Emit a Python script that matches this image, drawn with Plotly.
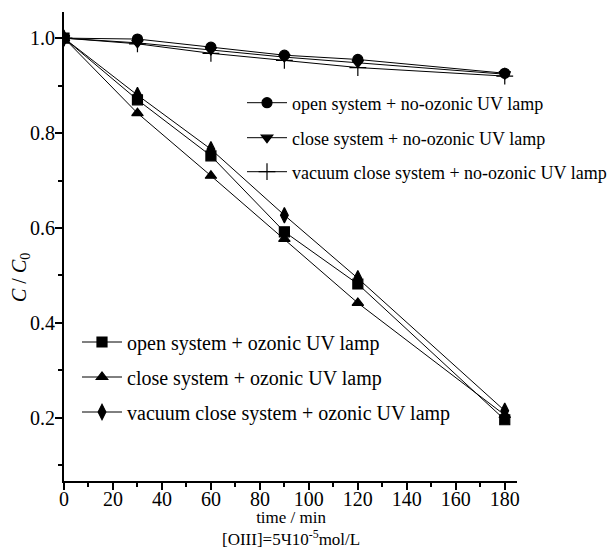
import plotly.graph_objects as go

time_min = [0, 30, 60, 90, 120, 180]

open_no_ozonic = [1.0, 0.998, 0.981, 0.964, 0.955, 0.926]
close_no_ozonic = [1.0, 0.990, 0.975, 0.960, 0.948, 0.924]
vacuum_no_ozonic = [1.0, 0.988, 0.968, 0.953, 0.938, 0.920]

open_ozonic = [1.0, 0.870, 0.752, 0.592, 0.482, 0.196]
close_ozonic = [1.0, 0.842, 0.710, 0.577, 0.442, 0.206]
vacuum_ozonic = [1.0, 0.880, 0.766, 0.627, 0.494, 0.215]

names = [
    "open system + no-ozonic UV lamp",
    "close system + no-ozonic UV lamp",
    "vacuum close system + no-ozonic UV lamp",
    "open system + ozonic UV lamp",
    "close system + ozonic UV lamp",
    "vacuum close system + ozonic UV lamp",
]
series = [open_no_ozonic, close_no_ozonic, vacuum_no_ozonic,
          open_ozonic, close_ozonic, vacuum_ozonic]
symbols = ["circle", "triangle-down", "cross-thin", "square", "triangle-up", "diamond-tall"]
sizes = [10, 10, 12, 10, 10, 11]

FONT = "Liberation Serif, Times New Roman, serif"

# page geometry (the page body has an 8px margin)
OFF = 8
W, H = 616 - OFF, 550 - OFF
PL, PT, PR, PB = 64, 12, 517, 481          # plot area in page pixels
L, T = PL - OFF, PT - OFF
R, B = W - (PR - OFF), H - (PB - OFF)
pw, ph = PR - PL, PB - PT

def px2paper(xp, yp):
    return (xp - PL) / pw, (PB - yp) / ph

fig = go.Figure()
legend_ids = ["legend", "legend2", "legend3", "legend4", "legend5", "legend6"]
for i, (nm, ys) in enumerate(zip(names, series)):
    fig.add_trace(go.Scatter(
        x=time_min, y=ys, name=nm, mode="lines+markers",
        line=dict(color="black", width=1),
        marker=dict(symbol=symbols[i], size=sizes[i], color="black",
                    line=dict(color="black", width=1.2)),
        legend=legend_ids[i], showlegend=True,
    ))

legend_pos = [(242, 103), (242, 138), (242, 172), (77, 342), (77, 377), (77, 412)]
legend_fonts = [18, 18, 18, 20, 20, 20]
layout_legends = {}
for i, lid in enumerate(legend_ids):
    lx, ly = px2paper(*legend_pos[i])
    layout_legends[lid] = dict(
        x=lx, y=ly, xanchor="left", yanchor="middle",
        bgcolor="rgba(0,0,0,0)", borderwidth=0,
        font=dict(family=FONT, size=legend_fonts[i], color="black"),
        itemwidth=40,
    )

fig.update_layout(
    width=W, height=H,
    margin=dict(l=L, r=R, t=T, b=B, autoexpand=False),
    paper_bgcolor="white", plot_bgcolor="white",
    font=dict(family=FONT, size=20, color="black"),
    **layout_legends,
)

fig.update_xaxes(
    range=[0, 185], tickmode="array", tickvals=list(range(0, 181, 20)),
    ticks="outside", ticklen=7, tickwidth=1.5, tickcolor="black",
    ticklabelstandoff=-8, automargin=False,
    showline=True, linecolor="black", linewidth=2, showgrid=False, zeroline=False,
    minor=dict(tickvals=list(range(10, 181, 20)), ticks="outside", ticklen=4,
               tickwidth=1.5, tickcolor="black", showgrid=False),
    tickfont=dict(family=FONT, size=20),
)
fig.update_yaxes(
    range=[0.067, 1.055], tickmode="array", tickvals=[0.2, 0.4, 0.6, 0.8, 1.0],
    ticktext=["0.2", "0.4", "0.6", "0.8", "1.0"],
    ticks="outside", ticklen=7, tickwidth=1.5, tickcolor="black",
    ticklabelstandoff=-4, automargin=False,
    showline=True, linecolor="black", linewidth=2, showgrid=False, zeroline=False,
    minor=dict(tickvals=[0.1, 0.3, 0.5, 0.7, 0.9], ticks="outside", ticklen=4,
               tickwidth=1.5, tickcolor="black", showgrid=False),
    tickfont=dict(family=FONT, size=20),
)

tx, ty = px2paper(20, 278)
fig.add_annotation(x=tx, y=ty, xref="paper", yref="paper",
                   text="<i>C</i> / <i>C</i><sub>0</sub>", textangle=-90,
                   showarrow=False, font=dict(family=FONT, size=20),
                   xanchor="center", yanchor="middle")
ax, ay = px2paper(291, 506)
fig.add_annotation(x=ax, y=ay, xref="paper", yref="paper",
                   text="time / min<br>[OIII]=5Ч10<sup>-5</sup>mol/L",
                   showarrow=False, font=dict(family=FONT, size=17),
                   align="center", xanchor="center", yanchor="top")

fig.write_html("out.html")
